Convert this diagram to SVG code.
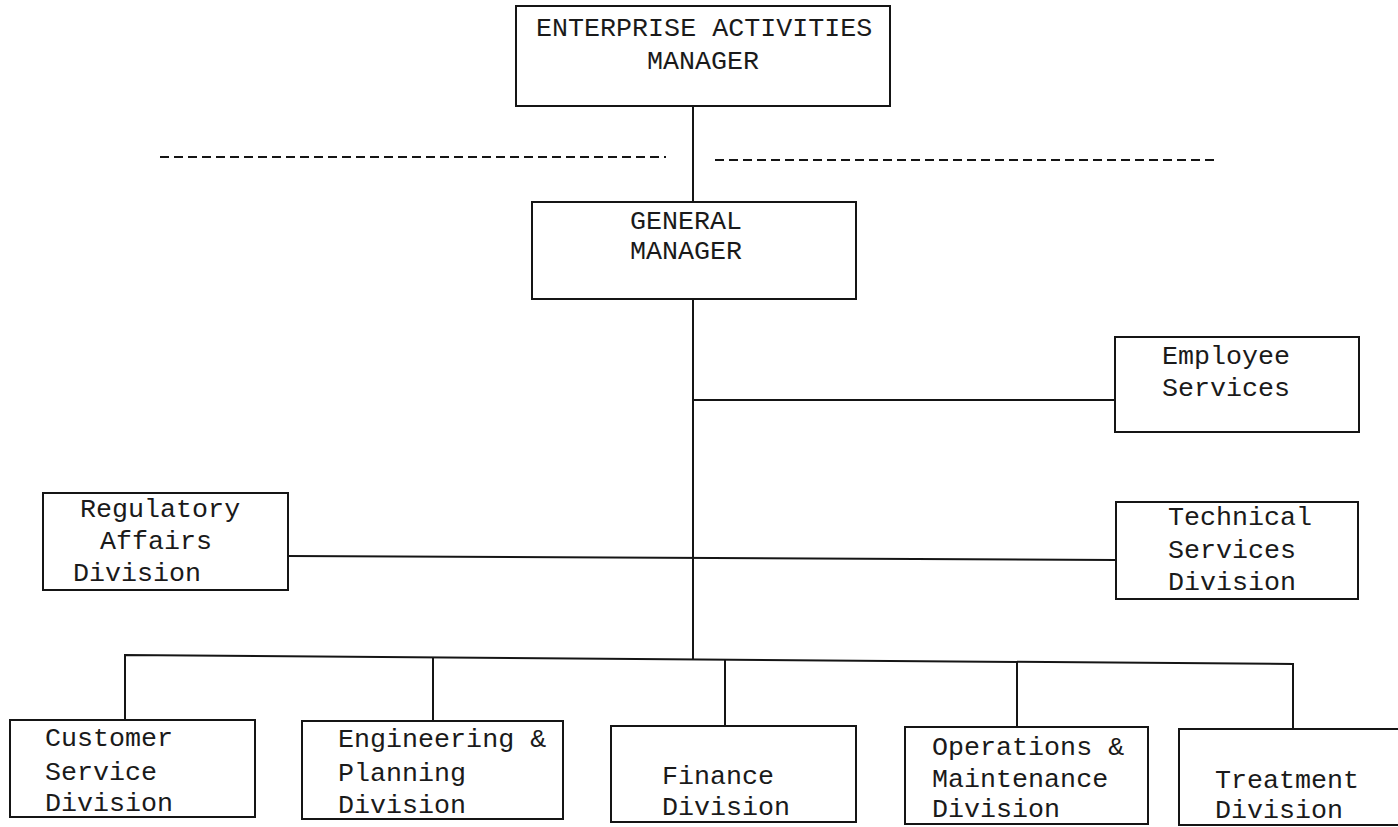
<svg xmlns="http://www.w3.org/2000/svg" width="1398" height="827" viewBox="0 0 1398 827">
<style>
.box{fill:#fff;stroke:#151515;stroke-width:2}
.ln{fill:none;stroke:#151515;stroke-width:2}
.dash{fill:none;stroke:#151515;stroke-width:2;stroke-dasharray:9 5}
text{font-family:"Liberation Mono","DejaVu Sans Mono",monospace;font-size:26.7px;fill:#1a1a1a}
</style>
<rect width="1398" height="827" fill="#fff"/>
<g id="connectors">
<line class="ln" x1="693" y1="106" x2="693" y2="202"/>
<line class="dash" x1="160" y1="157" x2="666" y2="157"/>
<line class="dash" x1="715" y1="160" x2="1216" y2="160"/>
<line class="ln" x1="693" y1="299" x2="693" y2="659"/>
<line class="ln" x1="693" y1="400" x2="1115" y2="400"/>
<line class="ln" x1="288" y1="556" x2="1116" y2="560"/>
<polyline class="ln" points="125,720 125,655 1293,664 1293,729"/>
<line class="ln" x1="433" y1="657" x2="433" y2="721"/>
<line class="ln" x1="725" y1="660" x2="725" y2="726"/>
<line class="ln" x1="1017" y1="662" x2="1017" y2="727"/>
</g>
<g id="enterprise-activities-manager">
<rect class="box" x="516" y="6" width="374" height="100"/>
<text x="536" y="36" font-size="27">ENTERPRISE ACTIVITIES</text>
<text x="647" y="69" font-size="27">MANAGER</text>
</g>
<g id="general-manager">
<rect class="box" x="532" y="202" width="324" height="97"/>
<text x="630" y="229">GENERAL</text>
<text x="630" y="259">MANAGER</text>
</g>
<g id="employee-services">
<rect class="box" x="1115" y="337" width="244" height="95"/>
<text x="1162" y="364">Employee</text>
<text x="1162" y="396">Services</text>
</g>
<g id="regulatory-affairs">
<rect class="box" x="43" y="493" width="245" height="97"/>
<text x="80" y="517">Regulatory</text>
<text x="100" y="549">Affairs</text>
<text x="73" y="581">Division</text>
</g>
<g id="technical-services">
<rect class="box" x="1116" y="502" width="242" height="97"/>
<text x="1168" y="525">Technical</text>
<text x="1168" y="558">Services</text>
<text x="1168" y="590">Division</text>
</g>
<g id="customer-service">
<rect class="box" x="10" y="720" width="245" height="97"/>
<text x="45" y="746">Customer</text>
<text x="45" y="780">Service</text>
<text x="45" y="811">Division</text>
</g>
<g id="engineering-planning">
<rect class="box" x="302" y="721" width="261" height="98"/>
<text x="338" y="747">Engineering &amp;</text>
<text x="338" y="781">Planning</text>
<text x="338" y="813">Division</text>
</g>
<g id="finance">
<rect class="box" x="611" y="726" width="245" height="96"/>
<text x="662" y="784">Finance</text>
<text x="662" y="815">Division</text>
</g>
<g id="operations-maintenance">
<rect class="box" x="905" y="727" width="243" height="97"/>
<text x="932" y="755">Operations &amp;</text>
<text x="932" y="787">Maintenance</text>
<text x="932" y="817">Division</text>
</g>
<g id="treatment">
<rect class="box" x="1179" y="729" width="230" height="96"/>
<text x="1215" y="788">Treatment</text>
<text x="1215" y="818">Division</text>
</g>
</svg>
